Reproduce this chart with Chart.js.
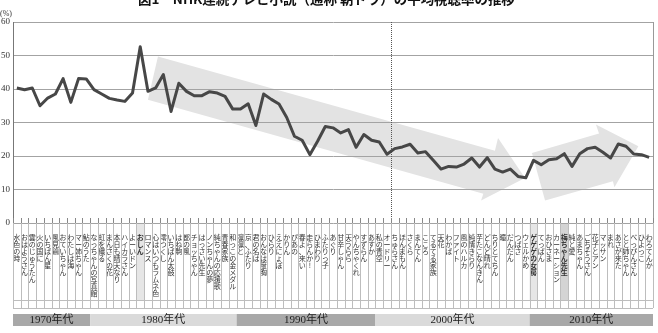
<!DOCTYPE html>
<html><head><meta charset="utf-8">
<script src="https://cdn.jsdelivr.net/npm/chart.js@4.4.1/dist/chart.umd.min.js"></script>
<style>html,body{margin:0;padding:0;background:#fff}canvas{display:block}</style>
</head><body>
<canvas id="c" width="658" height="333"></canvas>
<script>
const chartTitle = '図1　NHK連続テレビ小説（通称 朝ドラ）の平均視聴率の推移';
const unitLabel = '(%)';
const titles = ['水色の時','おはようさん','雲のじゅうたん','火の国に','いちばん星','風見鶏','おていちゃん','わたしは海','マー姉ちゃん','鮎のうた',
'なっちゃんの写真館','虹を織る','まんさくの花','本日も晴天なり','ハイカラさん','よーいドン','おしん','ロマンス','心はいつもラムネ色','澪つくし',
'いちばん太鼓','はね駒','都の風','チョッちゃん','はっさい先生','ノンちゃんの夢','純ちゃんの応援歌','青春家族','和っこの金メダル','凛凛と',
'京、ふたり','君の名は','おんなは度胸','ひらり','ええにょぼ','かりん','ぴあの','春よ、来い','走らんか!','ひまわり',
'ふたりっ子','あぐり','甘辛しゃん','天うらら','やんちゃくれ','すずらん','あすか','私の青空','オードリー','ちゅらさん',
'ほんまもん','さくら','まんてん','こころ','てるてる家族','天花','わかば','ファイト','風のハルカ','純情きらり',
'芋たこなんきん','どんど晴れ','ちりとてちん','瞳','だんだん','つばさ','ウェルかめ','ゲゲゲの女房','てっぱん','おひさま',
'カーネーション','梅ちゃん先生','純と愛','あまちゃん','ごちそうさん','花子とアン','マッサン','まれ','あさが来た','とと姉ちゃん',
'べっぴんさん','ひよっこ','わろてんか'];
const years = ['75','75','76','76','77','77','78','78','79','79','80','80','81','81','82','82','83','84','84','85',
'85','86','86','87','87','88','88','89','89','90','90','91','92','92','93','93','94','94','95','96',
'96','97','97','98','98','99','99','00','00','01','01','02','02','03','03','04','04','05','05','06',
'06','07','07','08','08','09','09','10','10','11','11','12','12','13','13','14','14','15','15','16',
'16','17','17'];
const ratings = [40.3,39.8,40.3,35.0,37.3,38.5,43.1,36.0,43.1,43.0,
39.8,38.5,37.2,36.7,36.3,38.8,52.6,39.3,40.3,44.3,
33.3,41.7,39.3,38.0,38.0,39.2,38.8,37.8,34.0,34.0,
35.6,29.1,38.5,36.9,35.5,31.5,25.9,24.7,20.4,24.4,
28.8,28.4,26.9,27.9,22.6,26.4,24.7,24.2,20.5,22.2,
22.7,23.5,20.9,21.3,18.7,16.1,16.9,16.7,17.6,19.4,
16.7,19.5,16.1,15.2,16.1,13.9,13.5,18.7,17.4,18.9,
19.2,20.7,16.9,20.7,22.2,22.6,21.1,19.4,23.6,22.9,
20.6,20.4,19.6];
const highlighted = ['おしん','ゲゲゲの女房','梅ちゃん先生'];
const dividerAfter = 'オードリー';
// trend arrows, in (category index, %) coordinates
const trendDown = [[18.3,49.7],[62.0,21.6],[62.4,25.4],[65.9,13.4],[60.2,6.7],[60.5,8.7],[17.0,36.8]];
const trendUp = [[66.8,20.9],[75.5,26.7],[75.1,29.4],[80.6,22.9],[77.5,10.7],[77.3,12.5],[68.5,6.7]];

const JP = '"Noto Sans CJK JP","Noto Sans",sans-serif';
const SERIF = '"Liberation Serif","DejaVu Serif",serif';
const LABEL_LINES = 10;

const decorPlugin = {
  id: 'decor',
  beforeDraw(chart) {
    const {ctx, chartArea: ca, scales: {x, y}} = chart;
    ctx.save();
    ctx.fillStyle = '#fff';
    ctx.fillRect(0, 0, chart.width, chart.height);
    ctx.fillStyle = '#e3e3e3';
    [trendDown, trendUp].forEach(poly => {
      ctx.beginPath();
      poly.forEach(([i, v], k) => {
        const px = x.getPixelForValue(i), py = y.getPixelForValue(v);
        k ? ctx.lineTo(px, py) : ctx.moveTo(px, py);
      });
      ctx.closePath();
      ctx.fill();
    });
    const w = (ca.right - ca.left) / titles.length;
    highlighted.forEach(t => {
      const i = titles.indexOf(t);
      const cx = x.getPixelForValue(i);
      ctx.fillStyle = t === '梅ちゃん先生' ? '#d4d4d4' : '#e6e6e6';
      ctx.fillRect(cx - w / 2, ca.bottom, w, 77);
    });
    ctx.restore();
  },
  beforeDatasetsDraw(chart) {
    const {ctx, chartArea: ca, scales: {x}} = chart;
    const dx = Math.round(x.getPixelForValue(titles.indexOf(dividerAfter) + 0.5)) + 0.5;
    ctx.save();
    ctx.strokeStyle = '#555';
    ctx.lineWidth = 1;
    ctx.setLineDash([1, 1]);
    ctx.beginPath(); ctx.moveTo(dx, ca.top); ctx.lineTo(dx, ca.bottom); ctx.stroke();
    ctx.restore();
  },
  afterDraw(chart) {
    const {ctx, chartArea: ca, scales: {x}} = chart;
    const n = titles.length;
    const w = (ca.right - ca.left) / n;
    const tableBottom = ca.bottom + 77 + 8;
    ctx.save();
    ctx.strokeStyle = '#999';
    ctx.lineWidth = 1;
    ctx.beginPath(); ctx.moveTo(Math.round(ca.right) + 0.5, ca.top); ctx.lineTo(Math.round(ca.right) + 0.5, ca.bottom); ctx.stroke();
    for (let i = 0; i <= n; i++) {
      const px = Math.round(ca.left + i * w) + 0.5;
      ctx.strokeStyle = '#bdbdbd';
      ctx.beginPath(); ctx.moveTo(px, ca.bottom); ctx.lineTo(px, tableBottom); ctx.stroke();
      ctx.strokeStyle = '#888';
      ctx.beginPath(); ctx.moveTo(px, ca.bottom - 5); ctx.lineTo(px, ca.bottom); ctx.stroke();
    }
    ctx.strokeStyle = '#bdbdbd';
    [ca.bottom + 77, tableBottom].forEach(yy => {
      ctx.beginPath(); ctx.moveTo(ca.left, Math.round(yy) + 0.5); ctx.lineTo(ca.right, Math.round(yy) + 0.5); ctx.stroke();
    });
    const groups = [];
    years.forEach((yy, i) => {
      const n2 = parseInt(yy, 10);
      const dec = Math.floor((n2 >= 50 ? 1900 + n2 : 2000 + n2) / 10) * 10;
      const g = groups[groups.length - 1];
      if (g && g.dec === dec) g.end = i; else groups.push({dec, start: i, end: i});
    });
    groups.forEach((g, k) => {
      const x0 = x.getPixelForValue(g.start) - w / 2, x1 = x.getPixelForValue(g.end) + w / 2;
      ctx.fillStyle = k % 2 === 0 ? '#a8a8a8' : '#dadada';
      ctx.fillRect(x0, 314, x1 - x0, 12);
      ctx.fillStyle = '#222';
      ctx.textAlign = 'center';
      ctx.textBaseline = 'middle';
      ctx.font = '11px "Liberation Serif","Noto Sans CJK JP",serif';
      ctx.fillText(g.dec + '年代', (x0 + x1) / 2, 320.5);
    });
    // title (only its lower part is visible, as in the source)
    ctx.fillStyle = '#111';
    ctx.font = 'bold 14px ' + JP;
    const tw = ctx.measureText(chartTitle).width;
    const fs = 14 * 377 / tw;
    ctx.font = 'bold ' + fs.toFixed(2) + 'px ' + JP;
    ctx.textAlign = 'left';
    ctx.textBaseline = 'alphabetic';
    ctx.fillText(chartTitle, 138, 4);
    ctx.fillStyle = '#333';
    ctx.font = '8px ' + SERIF;
    ctx.textBaseline = 'middle';
    ctx.fillText(unitLabel, 0, 14);
    ctx.restore();
  }
};

new Chart(document.getElementById('c'), {
  type: 'line',
  data: {
    labels: titles,
    datasets: [{data: ratings, borderColor: '#474747', borderWidth: 3, pointRadius: 0, tension: 0, fill: false, borderJoinStyle: 'round'}]
  },
  options: {
    responsive: false, animation: false, devicePixelRatio: 1,
    layout: {padding: {top: 22, right: 5, bottom: 25, left: 0}},
    plugins: {legend: {display: false}, tooltip: {enabled: false}, title: {display: false}},
    scales: {
      x: {
        type: 'category', offset: true, weight: 0,
        grid: {display: false}, border: {display: false},
        ticks: {
          autoSkip: false, maxRotation: 0, minRotation: 0, padding: 3, color: '#333', crossAlign: 'near',
          font: (c) => ({family: JP, size: 7, lineHeight: 1, weight: highlighted.includes(titles[c.index]) ? 'bold' : 'normal'}),
          callback: (v, i) => {
            const chars = Array.from(titles[i]);
            while (chars.length < LABEL_LINES) chars.push('');
            return chars;
          }
        },
        afterFit: s => { s.height = 77; }
      },
      x2: {
        type: 'category', labels: years, offset: true, position: 'bottom', weight: 1,
        grid: {display: false}, border: {display: false},
        ticks: {autoSkip: false, maxRotation: 0, minRotation: 0, padding: 1, color: '#555', font: {family: SERIF, size: 5, lineHeight: 1}},
        afterFit: s => { s.height = 8; }
      },
      y: {
        min: 0, max: 60,
        grid: {color: '#a3a3a3', lineWidth: 1, drawTicks: false},
        border: {color: '#777', width: 1},
        ticks: {stepSize: 10, padding: 3, color: '#333', font: {family: SERIF, size: 9}},
        afterFit: s => { s.width = 13; }
      }
    }
  },
  plugins: [decorPlugin]
});
</script>
</body></html>
